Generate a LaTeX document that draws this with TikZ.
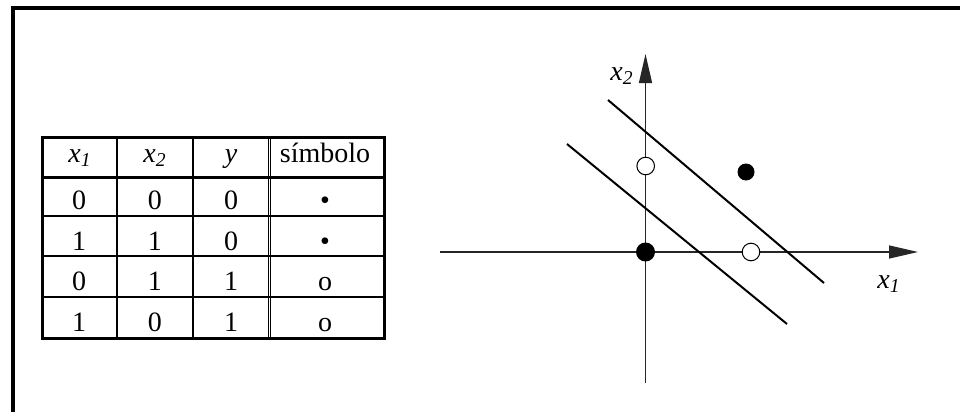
\documentclass[tikz,border=0pt]{standalone}
\usepackage{fontspec}
\setmainfont{Liberation Serif}
\usetikzlibrary{arrows.meta}
\newcommand{\varx}[1]{\textit{x}\textsubscript{\textit{#1}}}

\begin{document}
\begin{tikzpicture}[x=0.5pt, y=-0.5pt, >={Triangle[length=14.5pt, width=6.5pt]},
  texto/.style={anchor=base, inner sep=0pt, font=\fontsize{14pt}{17pt}\selectfont},
  lleno/.style={circle, fill=black, inner sep=0pt, minimum size=9.5pt},
  vacio/.style={circle, draw=black, line width=0.5pt, fill=white, inner sep=0pt, minimum size=8.8pt}]
  \useasboundingbox (0,0) rectangle (960,412);
  % marco
  \draw[line width=2pt] (12.5,412) -- (12.5,8) -- (960,8);
  % tabla
  \draw[line width=1.5pt] (42,137) rectangle (384,338.5);
  \draw[line width=1.75pt] (42,177.5) -- (384,177.5);
  \foreach \y in {215.5,256,297} \draw[line width=1pt] (42,\y) -- (384,\y);
  \foreach \x in {117,193} \draw[line width=1pt] (\x,137) -- (\x,338.5);
  \draw[line width=0.5pt] (268.2,137) -- (268.2,338.5) (270.8,137) -- (270.8,338.5);
  \node[texto] (h1) at (80,162) {\varx{1}};
  \node[texto] (h2) at (155,162) {\varx{2}};
  \node[texto] (h3) at (231,162) {\textit{y}};
  \node[texto] (h4) at (325,162) {símbolo};
  \foreach \a/\b/\c/\s [count=\i] in {0/0/0/\textbullet, 1/1/0/\textbullet, 0/1/1/o, 1/0/1/o} {
    \pgfmathsetmacro{\yb}{168.8+40.7*\i}
    \node[texto] (a\i) at (79,\yb) {\a};
    \node[texto] (b\i) at (155,\yb) {\b};
    \node[texto] (c\i) at (231,\yb) {\c};
    \node[texto] (s\i) at (325,\yb) {\s};
  }
  % ejes
  \coordinate (O) at (645.5,252);
  \coordinate (xizq) at (440,252);
  \coordinate (xder) at (918,252);
  \coordinate (yabajo) at (645.5,383);
  \coordinate (yarriba) at (645.5,54);
  \draw[->, line width=0.7pt, black!85] (xizq) -- (xder);
  \draw[->, line width=0.7pt, black!85] (yabajo) -- (yarriba);
  \node[texto] (lx1) at (889,288) {\varx{1}};
  \node[texto] (lx2) at (622,80) {\varx{2}};
  % rectas de decision
  \draw[line width=1pt] (608,100) -- (824,283);
  \draw[line width=1pt] (567,144) -- (787,324);
  % puntos
  \node[lleno] (p00) at (O) {};
  \node[vacio] (p01) at (645.7,166) {};
  \node[lleno, minimum size=8.5pt] (p11) at (746,172) {};
  \node[vacio] (p10) at (751,252) {};
\end{tikzpicture}
\end{document}
